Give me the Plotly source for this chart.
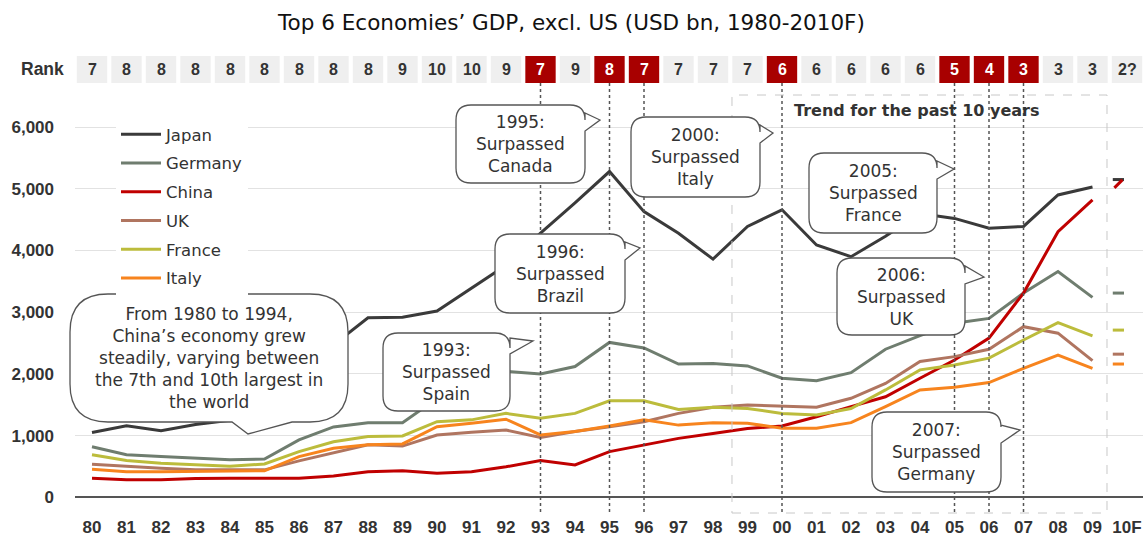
import plotly.graph_objects as go

# GDP, USD bn
years = list(range(1980, 2010))
year_labels = ['80', '81', '82', '83', '84', '85', '86', '87', '88', '89',
               '90', '91', '92', '93', '94', '95', '96', '97', '98', '99',
               '00', '01', '02', '03', '04', '05', '06', '07', '08', '09', '10F']

japan = [1050, 1160, 1080, 1180, 1250, 1360, 2000, 2470, 2910, 2920,
         3020, 3390, 3760, 4280, 4770, 5280, 4630, 4280, 3860, 4390,
         4660, 4090, 3900, 4230, 4600, 4520, 4360, 4390, 4900, 5030]
germany = [820, 690, 660, 635, 610, 620, 930, 1140, 1210, 1210,
           1600, 1830, 2040, 2000, 2120, 2510, 2420, 2160, 2170, 2130,
           1930, 1890, 2020, 2400, 2620, 2820, 2900, 3310, 3660, 3240]
china = [310, 285, 285, 305, 310, 310, 310, 345, 415, 430,
         390, 415, 495, 595, 525, 740, 850, 955, 1035, 1115,
         1155, 1305, 1470, 1630, 1930, 2225, 2580, 3310, 4305, 4820]
uk = [535, 500, 470, 445, 440, 445, 590, 715, 850, 830,
      1010, 1055, 1090, 970, 1065, 1145, 1225, 1360, 1460, 1495,
      1480, 1460, 1605, 1845, 2200, 2280, 2400, 2765, 2660, 2215]
france = [690, 595, 550, 525, 505, 540, 740, 900, 985, 995,
          1225, 1255, 1360, 1280, 1360, 1565, 1565, 1425, 1460, 1440,
          1360, 1335, 1440, 1740, 2065, 2145, 2255, 2550, 2830, 2615]
italy = [455, 415, 415, 425, 425, 430, 660, 795, 850, 865,
         1145, 1200, 1265, 1010, 1065, 1155, 1255, 1170, 1210, 1200,
         1120, 1120, 1210, 1470, 1740, 1785, 1860, 2090, 2305, 2090]

# 2010 forecast dashes
forecast_year = 2009.75
japan_10f = 5150
germany_10f = 3310
china_10f = 5080
uk_10f = 2320
france_10f = 2710
italy_10f = 2160

# China's rank by year, 1980-2010F
rank_years = list(range(1980, 2011))
ranks = ['7', '8', '8', '8', '8', '8', '8', '8', '8', '9', '10', '10', '9', '7', '9',
         '8', '7', '7', '7', '7', '6', '6', '6', '6', '6', '5', '4', '3', '3', '3', '2?']
milestone_years = [1993, 1995, 1996, 2000, 2005, 2006, 2007]

series = [
    ('Japan', japan, japan_10f, '#3a3a3a'),
    ('Germany', germany, germany_10f, '#6f7d6f'),
    ('China', china, china_10f, '#c00000'),
    ('UK', uk, uk_10f, '#b07560'),
    ('France', france, france_10f, '#bcbc3c'),
    ('Italy', italy, italy_10f, '#f7841e'),
]

W, H = 1143, 541
L, R, T, B = 75, 0, 90, 26
PW, PH = W - L - R, H - T - B


def px(xp):
    return (xp - L) / PW


def py(yp):
    return (H - B - yp) / PH


fig = go.Figure()

for name, vals, v10, color in series:
    fig.add_trace(go.Scatter(x=years, y=vals, name=name, mode='lines',
                             line=dict(color=color, width=3),
                             legendgroup=name))
for name, vals, v10, color in series:
    fig.add_trace(go.Scatter(x=[forecast_year], y=[v10], mode='markers',
                             marker=dict(symbol='line-ne' if name == 'China' else 'line-ew',
                                         size=8, line=dict(color=color, width=3)),
                             showlegend=False, hoverinfo='skip'))

shapes = []
annotations = []

# rank row
for yr, rk in zip(rank_years, ranks):
    hit = yr in milestone_years
    shapes.append(dict(type='rect', xref='x', yref='paper',
                       x0=yr - 0.44, x1=yr + 0.44, y0=py(83), y1=py(56),
                       fillcolor='#a80000' if hit else '#efefef',
                       line=dict(width=0), layer='above'))
    annotations.append(dict(x=yr, y=py(69.5), xref='x', yref='paper', text=rk,
                            showarrow=False, xanchor='center', yanchor='middle',
                            font=dict(family='Liberation Sans', size=16, weight='bold',
                                      color='white' if hit else '#333')))
annotations.append(dict(x=px(42), y=py(69.5), xref='paper', yref='paper', text='Rank',
                        showarrow=False, xanchor='center', yanchor='middle',
                        font=dict(family='Liberation Sans', size=17.5, weight='bold', color='#333')))

# milestone dotted lines
for yr in milestone_years:
    shapes.append(dict(type='line', xref='x', yref='paper', x0=yr, x1=yr,
                       y0=py(512), y1=py(83),
                       line=dict(color='#555', width=1.5, dash='dot')))

# trend box
shapes.append(dict(type='rect', xref='x', yref='paper', x0=1998.55, x1=2009.42,
                   y0=py(513), y1=py(95), line=dict(color='#c8c8c8', width=1, dash='dash')))
annotations.append(dict(x=px(917), y=py(110.5), xref='paper', yref='paper',
                        text='Trend for the past 10 years', showarrow=False,
                        xanchor='center', yanchor='middle',
                        font=dict(family='DejaVu Sans', size=16, weight='bold', color='#333')))


def bubble(x0, y0, x1, y1, r, tail, tip):
    # rounded box with a pointer; tail = (side, a, b), tip in pixels
    side, a, b = tail
    d = 'M{},{}'.format(px(x0 + r), py(y0))
    d += ' L{},{}'.format(px(x1 - r), py(y0))
    d += ' Q{},{} {},{}'.format(px(x1), py(y0), px(x1), py(y0 + r))
    if side == 'right':
        d += ' L{},{} L{},{} L{},{}'.format(px(x1), py(a), px(tip[0]), py(tip[1]), px(x1), py(b))
    d += ' L{},{}'.format(px(x1), py(y1 - r))
    d += ' Q{},{} {},{}'.format(px(x1), py(y1), px(x1 - r), py(y1))
    if side == 'bottom':
        d += ' L{},{} L{},{} L{},{}'.format(px(b), py(y1), px(tip[0]), py(tip[1]), px(a), py(y1))
    d += ' L{},{}'.format(px(x0 + r), py(y1))
    d += ' Q{},{} {},{}'.format(px(x0), py(y1), px(x0), py(y1 - r))
    d += ' L{},{}'.format(px(x0), py(y0 + r))
    d += ' Q{},{} {},{} Z'.format(px(x0), py(y0), px(x0 + r), py(y0))
    return dict(type='path', xref='paper', yref='paper', path=d,
                fillcolor='white', line=dict(color='#555', width=1.3), layer='above')


callouts = [
    # (x0, y0, x1, y1, radius, tail, tip, text)
    (70, 294, 348, 422, 38, ('bottom', 232, 292), (248, 434),
     'From 1980 to 1994,<br>China\u2019s economy grew<br>steadily, varying between<br>the 7th and 10th largest in<br>the world'),
    (456, 105, 585, 183, 15, ('right', 113, 131), (600, 120), '1995:<br>Surpassed<br>Canada'),
    (495, 234, 625, 313, 15, ('right', 242, 260), (640, 248), '1996:<br>Surpassed<br>Brazil'),
    (631, 117, 760, 197, 15, ('right', 125, 143), (773, 133), '2000:<br>Surpassed<br>Italy'),
    (809, 153, 937, 233, 15, ('right', 161, 179), (954, 169), '2005:<br>Surpassed<br>France'),
    (837, 258, 965, 335, 15, ('right', 266, 284), (984, 277), '2006:<br>Surpassed<br>UK'),
    (872, 412, 1001, 492, 15, ('right', 425, 443), (1020, 430), '2007:<br>Surpassed<br>Germany'),
    (383, 333, 510, 411, 15, ('right', 338, 354), (533, 341), '1993:<br>Surpassed<br>Spain'),
]
for x0, y0, x1, y1, r, tail, tip, text in callouts:
    shapes.append(bubble(x0, y0, x1, y1, r, tail, tip))
    annotations.append(dict(x=px((x0 + x1) / 2), y=py((y0 + y1) / 2), xref='paper', yref='paper',
                            text=text, showarrow=False, align='center',
                            xanchor='center', yanchor='middle',
                            font=dict(family='DejaVu Sans', size=17, color='#333')))

fig.update_layout(
    width=W, height=H,
    margin=dict(l=L, r=R, t=T, b=B),
    plot_bgcolor='white', paper_bgcolor='white',
    title=dict(text='Top 6 Economies\u2019 GDP, excl. US (USD bn, 1980-2010F)',
               x=0.5, xanchor='center', y=1 - 22 / H, yanchor='middle',
               font=dict(family='DejaVu Sans', size=21.5, color='#111')),
    xaxis=dict(range=[1980 - 17 / 34.5, 1980 - 17 / 34.5 + PW / 34.5],
               tickvals=rank_years, ticktext=year_labels, showgrid=False,
               zeroline=False, showline=False, ticks='',
               tickfont=dict(family='Liberation Sans', size=17, weight='bold', color='#333')),
    yaxis=dict(range=[(497.3 - 515) / 0.0617, (497.3 - 90) / 0.0617],
               tickvals=[0, 1000, 2000, 3000, 4000, 5000, 6000], tickformat=',',
               showgrid=True, gridcolor='#e2e2e2', gridwidth=1,
               zeroline=True, zerolinecolor='#555', zerolinewidth=1.5,
               ticks='', ticklabelstandoff=20,
               tickfont=dict(family='Liberation Sans', size=17, weight='bold', color='#333')),
    legend=dict(x=px(116), y=py(117), xanchor='left', yanchor='top',
                bgcolor='white', tracegroupgap=4.3, itemwidth=40,
                font=dict(family='DejaVu Sans', size=16.5, color='#333')),
    shapes=shapes,
    annotations=annotations,
    showlegend=True,
)

fig.write_html('out.html', config={'displayModeBar': False},
               post_script="document.body.style.margin='0px';document.body.style.overflow='hidden';")
